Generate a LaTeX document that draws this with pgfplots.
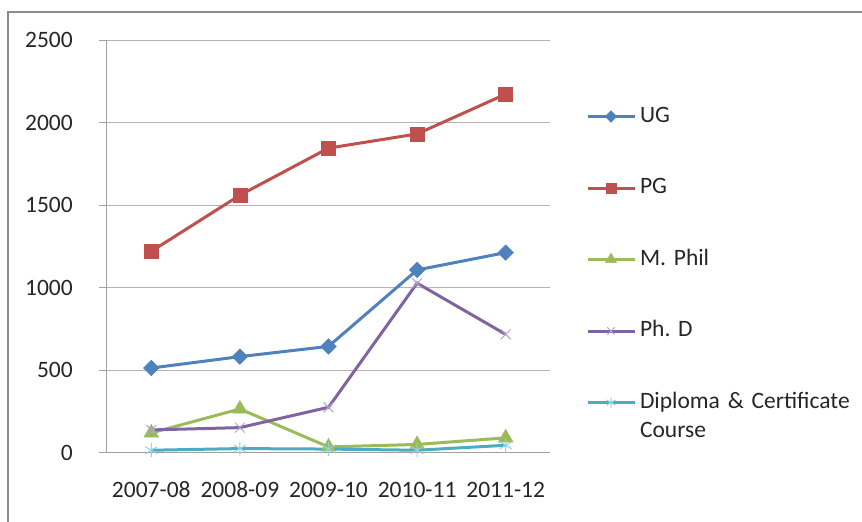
\documentclass[border=0pt]{standalone}
\usepackage{fontspec}
\setmainfont{Carlito}
\usepackage{pgfplots}
\pgfplotsset{compat=1.18}
\frenchspacing
\definecolor{ugc}{HTML}{4F81BD}
\definecolor{pgc}{HTML}{C0504D}
\definecolor{mpc}{HTML}{9BBB59}
\definecolor{phc}{HTML}{8064A2}
\definecolor{phm}{HTML}{B3A2C7}
\definecolor{dic}{HTML}{4BACC6}
\definecolor{dim}{HTML}{8FD3EA}
\definecolor{gridgray}{HTML}{B4B4B4}
\definecolor{axisgray}{HTML}{A0A0A0}
\definecolor{framegray}{HTML}{8C8C8C}
\definecolor{textc}{HTML}{262626}
\begin{document}
\begin{tikzpicture}[font=\fontsize{23.5}{29}\selectfont, text=textc]
\useasboundingbox (0,0) rectangle (862pt,-522pt);
\begin{scope}
\clip (0,0) rectangle (862pt,-522pt);
\draw[framegray, line width=2pt] (8pt,-600pt) -- (8pt,-12pt) -- (950pt,-12pt);
\end{scope}
\begin{axis}[
  at={(107pt,-452.7pt)}, anchor=south west,
  scale only axis, width=443pt, height=412.7pt,
  xmin=0, xmax=5, ymin=0, ymax=2500,
  axis x line=bottom, axis y line=left,
  axis line style={-, axisgray, line width=1pt},
  xtick={0.5,1.5,2.5,3.5,4.5},
  xticklabels={2007-08,2008-09,2009-10,2010-11,2011-12},
  minor xtick={0,1,2,3,4,5},
  ytick={0,500,1000,1500,2000,2500},
  tick align=outside,
  major tick length=8pt, minor tick length=7pt,
  xtick style={draw=none},
  minor x tick style={axisgray, line width=1pt},
  ytick style={axisgray, line width=1pt},
  ymajorgrids, major grid style={gridgray, line width=1pt},
  /pgf/number format/assume math mode=true,
  /pgf/number format/1000 sep={},
  yticklabel style={anchor=east, inner sep=0pt, xshift=-26pt},
  xticklabel style={anchor=north, inner sep=0pt, text height=17pt, text depth=6pt, yshift=-20pt},
  clip=false,
  legend image code/.code={\draw[mark repeat=2,mark phase=2,#1, every mark/.append style={scale=0.75}] plot coordinates {(0pt,0pt) (23.5pt,0pt) (47pt,0pt)};},
  legend cell align=left,
  legend style={draw=none, fill=none, inner sep=0pt, outer sep=0pt,
    at={(1.0813,0.8425)}, anchor=north west, row sep=48.5pt, column sep=4pt,
    nodes={inner sep=0pt, text height=17pt, text depth=6pt, text width=230pt, align=left}},
  every axis plot/.append style={line width=3pt},
]
\addplot[ugc, mark=square*, mark size=5.5pt, mark options={rotate=45, line width=0.5pt, fill=ugc}] coordinates {(0.5,513) (1.5,582) (2.5,644) (3.5,1107) (4.5,1212)};
\addlegendentry{UG}
\addplot[pgc, mark=square*, mark size=7pt, mark options={line width=0.5pt, fill=pgc}] coordinates {(0.5,1220) (1.5,1560) (2.5,1845) (3.5,1931) (4.5,2172)};
\addlegendentry{PG}
\addplot[mpc, mark=triangle*, mark size=8.5pt, mark options={line width=0.5pt, fill=mpc}] coordinates {(0.5,120) (1.5,265) (2.5,35) (3.5,50) (4.5,90)};
\addlegendentry{M. Phil}
\addplot[phc, mark=x, mark size=7pt, mark options={phm, line width=1pt}] coordinates {(0.5,138) (1.5,152) (2.5,275) (3.5,1027) (4.5,717)};
\addlegendentry{Ph. D}
\addplot[dic, mark=asterisk, mark size=7pt, mark options={dim, line width=1pt}] coordinates {(0.5,15) (1.5,25) (2.5,22) (3.5,15) (4.5,45)};
\addlegendentry{Diploma \& Certificate\\Course}
\end{axis}
\end{tikzpicture}
\end{document}
